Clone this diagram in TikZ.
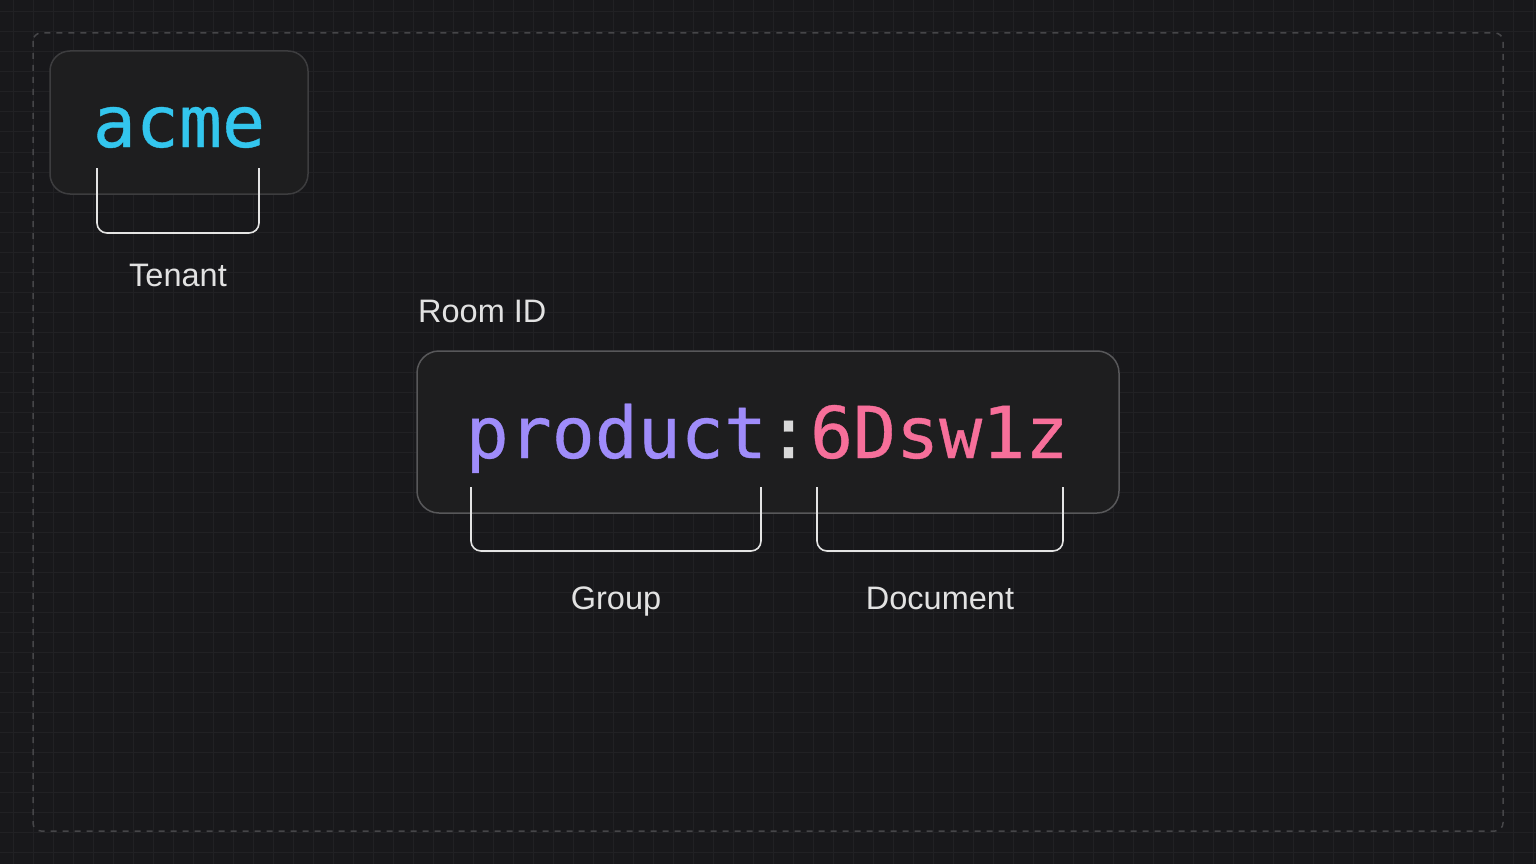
\documentclass[tikz,border=0pt]{standalone}
\usepackage{fontspec}
\setmainfont{Liberation Sans}
\newfontfamily\codefont[FakeBold=0.5]{DejaVu Sans Mono}
\definecolor{bgc}{HTML}{18181B}
\definecolor{gridc}{HTML}{212124}
\definecolor{framec}{HTML}{464649}
\definecolor{boxfill}{HTML}{1E1E1F}
\definecolor{boxline}{HTML}{3D3D3F}
\definecolor{boxlineb}{HTML}{58585A}
\definecolor{bracketc}{HTML}{E4E4E4}
\definecolor{labelc}{HTML}{E2E2E2}
\definecolor{cyanc}{HTML}{33C6EE}
\definecolor{purplec}{HTML}{9F8CFA}
\definecolor{pinkc}{HTML}{F76F9A}
\definecolor{colonc}{HTML}{D9D9D9}
\tikzset{
  idbox/.style={draw, fill=boxfill, line width=1.5pt, rounded corners=22pt, inner sep=0pt},
  bracketline/.style={draw=bracketc, line width=1.6pt, rounded corners=10pt},
  lbl/.style={text=labelc, font=\fontsize{32.5}{33}\selectfont, inner sep=0pt, anchor=base},
  code/.style={font=\codefont\fontsize{71.5}{72}\selectfont, inner sep=0pt, anchor=base},
}
\begin{document}
\begin{tikzpicture}[x=1pt,y=-1pt]
\useasboundingbox (0,0) rectangle (1536,864);
\fill[bgc] (0,0) rectangle (1536,864);
% grid
\foreach \gx in {0,...,76} {\draw[gridc, line width=1pt] (13+20*\gx,0) -- (13+20*\gx,864);}
\foreach \gy in {0,...,43} {\draw[gridc, line width=1pt] (0,12+20*\gy) -- (1536,12+20*\gy);}
% dashed frame
\draw[framec, line width=1.5pt, dash pattern=on 6pt off 6pt, rounded corners=8pt] (33,33) rectangle (1503,831);
% tenant box
\node[idbox, draw=boxline, rounded corners=20pt, minimum width=258pt, minimum height=143pt] (acmebox) at (179,122.5) {};
\node[code, text=cyanc] (acme) at (179,147) {acme};
\draw[bracketline] (97,168) -- (97,233) -- (259,233) -- (259,168);
\node[lbl] (tenant) at (178,286) {Tenant};
% room box
\node[lbl, anchor=base west] (roomid) at (418,322) {Room ID};
\node[idbox, draw=boxlineb, minimum width=702pt, minimum height=162pt] (roombox) at (768,432) {};
\node[code] (roomtext) at (767,458) {\textcolor{purplec}{product}\textcolor{colonc}{:}\textcolor{pinkc}{6Dsw1z}};
\draw[bracketline] (471,487) -- (471,551) -- (761,551) -- (761,487);
\draw[bracketline] (817,487) -- (817,551) -- (1063,551) -- (1063,487);
\node[lbl] (group) at (616,609) {Group};
\node[lbl] (document) at (940,609) {Document};
\end{tikzpicture}
\end{document}
